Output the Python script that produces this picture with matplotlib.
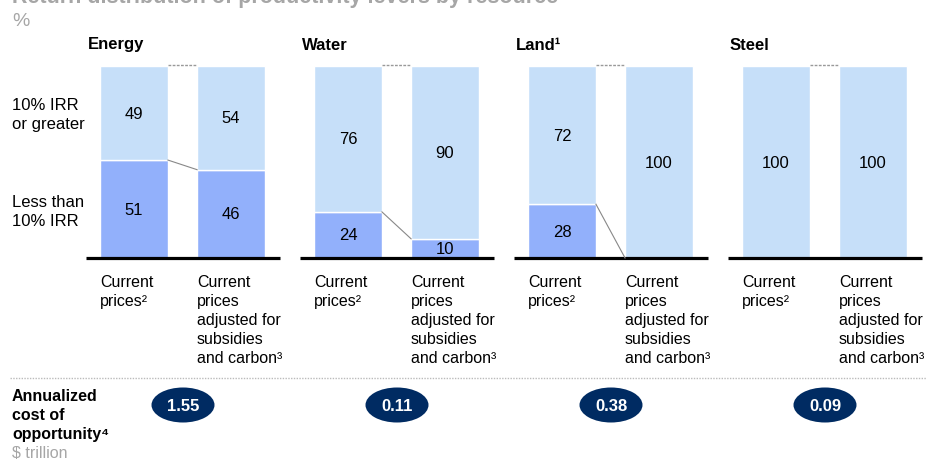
import matplotlib
matplotlib.use("Agg")
import matplotlib.pyplot as plt
from matplotlib.patches import Ellipse

plt.rcParams['font.family'] = ['Liberation Sans', 'DejaVu Sans']

# ---- data ----
resources = ["Energy", "Water", "Land", "Steel"]
resource_notes = ["", "", "¹", ""]
scenarios = ["Current\nprices²", "Current\nprices\nadjusted for\nsubsidies\nand carbon³"]
low_current = [51, 24, 28, 0]
low_adjusted = [46, 10, 0, 0]
high_current = [49, 76, 72, 100]
high_adjusted = [54, 90, 100, 100]
costs = [1.55, 0.11, 0.38, 0.09]
row_labels = ["10% IRR\nor greater", "Less than\n10% IRR"]

LIGHT = "#C6DFF9"
DARK = "#92B0FB"
NAVY = "#002B62"
GRAY = "#A6A6A6"

W, H = 926, 460
fig = plt.figure(figsize=(W / 100, H / 100), dpi=100)
bg = fig.add_axes([0, 0, 1, 1])
bg.set_xlim(0, W)
bg.set_ylim(H, 0)
bg.axis("off")

# title (clipped at top) and unit
bg.text(12, 3, "Return distribution of productivity levers by resource", fontsize=15.5,
        fontweight="bold", color=GRAY, va="baseline", ha="left")
bg.text(12, 21, "%", fontsize=14, color=GRAY, va="center", ha="left")

# row labels
bg.text(12, 115, row_labels[0], fontsize=12, va="center", ha="left", linespacing=1.3)
bg.text(12, 212, row_labels[1], fontsize=12, va="center", ha="left", linespacing=1.3)

panel_w = 214
for i, res in enumerate(resources):
    x0 = 86 + i * panel_w
    ax = fig.add_axes([x0 / W, (H - 259) / H, 194 / W, 192 / H])
    ax.set_xlim(-0.495, 1.505)
    ax.set_ylim(0, 100)
    for s in ["top", "left", "right"]:
        ax.spines[s].set_visible(False)
    ax.spines["bottom"].set_linewidth(2.3)
    ax.spines["bottom"].set_color("black")
    ax.spines["bottom"].set_capstyle("butt")
    ax.set_xticks([])
    ax.set_yticks([])
    ax.patch.set_alpha(0)

    lows = [low_current[i], low_adjusted[i]]
    highs = [high_current[i], high_adjusted[i]]
    bw = 0.70
    ax.bar([0, 1], lows, width=bw, color=DARK, edgecolor="white", linewidth=1, zorder=2)
    ax.bar([0, 1], highs, bottom=lows, width=bw, color=LIGHT, edgecolor="white", linewidth=1, zorder=2)

    # connectors
    ax.plot([bw / 2, 1 - bw / 2], [100.3, 100.3], color="#999999", lw=1, ls=(0, (2, 1)),
            zorder=3, clip_on=False)
    if lows[0] > 0:
        ax.plot([bw / 2, 1 - bw / 2], [lows[0], lows[1]], color="#888888", lw=0.8,
                zorder=3, clip_on=False)

    for j in range(2):
        if lows[j] > 0:
            ax.text(j, lows[j] / 2, str(lows[j]), ha="center",
                    va="center", fontsize=12, zorder=4)
        if highs[j] > 0:
            ax.text(j, lows[j] + highs[j] / 2, str(highs[j]), ha="center", va="center",
                    fontsize=12, zorder=4)

    # panel title
    bg.text(x0 + 2, 45, res + resource_notes[i], fontsize=12, fontweight="bold",
            va="center", ha="left")

    # scenario labels
    bg.text(x0 + 14, 275, scenarios[0], fontsize=11.5, va="top", ha="left", linespacing=1.33)
    bg.text(x0 + 111, 275, scenarios[1], fontsize=11.5, va="top", ha="left", linespacing=1.33)

    # cost ellipse
    cx = x0 + 97
    bg.add_patch(Ellipse((cx, 406), 63, 35, facecolor=NAVY, edgecolor="none"))
    bg.text(cx, 407, f"{costs[i]:.2f}", color="white", fontsize=12, fontweight="bold",
            ha="center", va="center")

# separator
bg.plot([10, 926], [379, 379], color="#BBBBBB", lw=1, ls=(0, (1, 1)))

bg.text(12, 389, "Annualized\ncost of\nopportunity⁴", fontsize=11.5, fontweight="bold",
        va="top", ha="left", linespacing=1.33)
bg.text(12, 446, "$ trillion", fontsize=11.5, color=GRAY, va="top", ha="left")

fig.savefig("out.png", dpi=100, facecolor="white")
